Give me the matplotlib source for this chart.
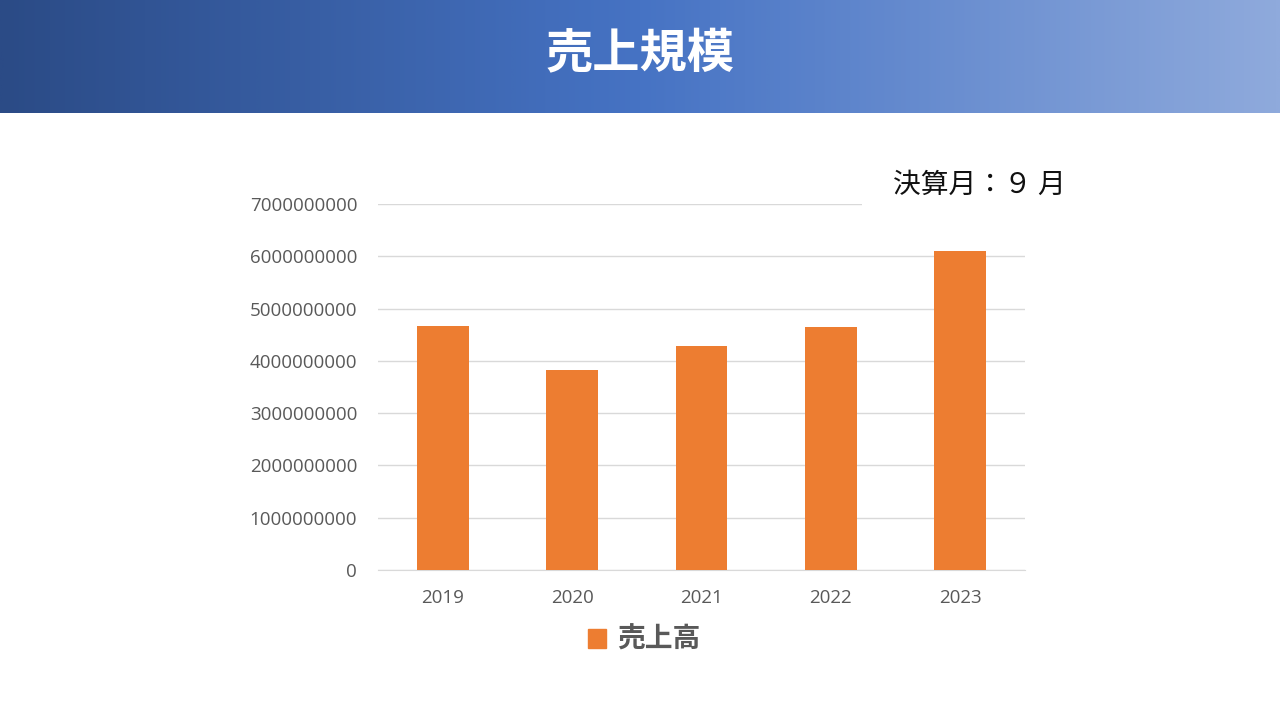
import numpy as np
import matplotlib
matplotlib.use("Agg")
import matplotlib.pyplot as plt
from matplotlib.colors import LinearSegmentedColormap
from matplotlib.patches import Rectangle

plt.rcParams['font.family'] = ['Noto Sans CJK JP', 'DejaVu Sans']

years = ["2019", "2020", "2021", "2022", "2023"]
sales = [4.67e9, 3.83e9, 4.29e9, 4.64e9, 6.10e9]
yticks = [0, 1e9, 2e9, 3e9, 4e9, 5e9, 6e9, 7e9]
title = "売上規模"
note = "決算月：９ 月"
series_name = "売上高"

fig = plt.figure(figsize=(12.8, 7.2), dpi=100)
fig.patch.set_facecolor("white")

# header banner with gradient
hax = fig.add_axes([0, 1 - 113 / 720, 1, 113 / 720])
cmap = LinearSegmentedColormap.from_list(
    "hdr", [(0.0, "#2b4b86"), (0.5, "#4673c4"), (1.0, "#8faadc")])
grad = np.linspace(0, 1, 512).reshape(1, -1)
hax.imshow(grad, aspect="auto", cmap=cmap, extent=[0, 1, 0, 1])
hax.set_axis_off()
hax.text(0.5, 0.52, title, color="white", fontsize=34, fontweight="bold",
         ha="center", va="center", transform=hax.transAxes)

# main chart
ax = fig.add_axes([378 / 1280, 1 - 570 / 720, (1025 - 378) / 1280, (570 - 204) / 720])
x = np.arange(len(years))
ax.bar(x, sales, width=0.4, color="#ed7d31", zorder=3)
ax.set_xlim(-0.5, len(years) - 0.5)
ax.set_ylim(0, 7e9)
ax.set_yticks(yticks)
ax.set_yticklabels([f"{int(v)}" for v in yticks])
ax.set_xticks(x)
ax.set_xticklabels(years)
ax.yaxis.grid(True, color="#d9d9d9", linewidth=1, zorder=0)
ax.set_axisbelow(True)
for s in ["top", "right", "left"]:
    ax.spines[s].set_visible(False)
ax.spines["bottom"].set_color("#d9d9d9")
ax.tick_params(axis="both", length=0, labelcolor="#595959", labelsize=13.5)
ax.tick_params(axis="y", pad=15)
ax.tick_params(axis="x", pad=14)
for lbl in ax.get_xticklabels() + ax.get_yticklabels():
    lbl.set_family(["Open Sans", "DejaVu Sans"])

# white box covering the gridline behind the note
fig.add_artist(Rectangle((862 / 1280, 1 - 222 / 720), 230 / 1280, 60 / 720,
                         transform=fig.transFigure, facecolor="white",
                         edgecolor="none", zorder=4))
fig.text(893 / 1280, 1 - 185 / 720, note, fontsize=20, color="#111111",
         ha="left", va="center", zorder=5)

# legend
leg = fig.legend(handles=[Rectangle((0, 0), 1, 1, color="#ed7d31")],
                 labels=[series_name], loc="center", bbox_to_anchor=(644 / 1280, 1 - 640 / 720),
                 frameon=False, handlelength=0.65, handleheight=0.65, handletextpad=0.4,
                 prop={"size": 20, "weight": "bold", "family": ["Noto Sans CJK JP"]})
for t in leg.get_texts():
    t.set_color("#595959")

fig.savefig("out.png", dpi=100, facecolor="white")
